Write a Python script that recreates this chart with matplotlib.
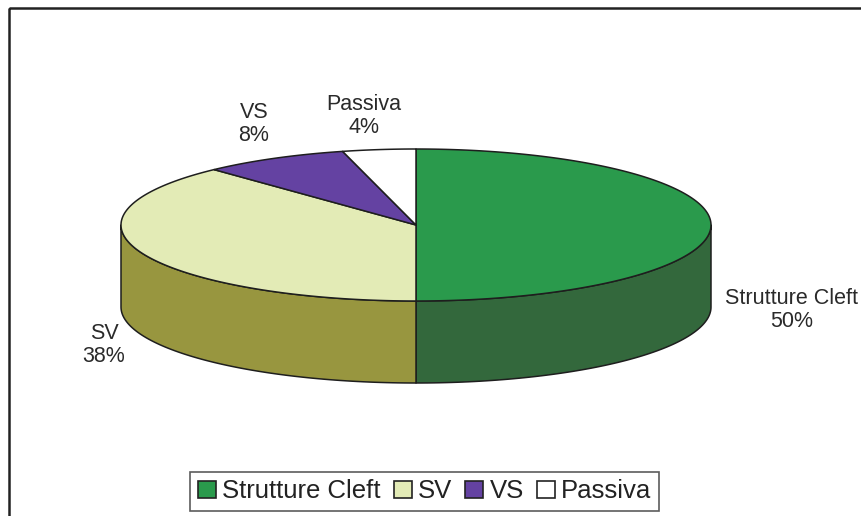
import numpy as np
import matplotlib.pyplot as plt
from matplotlib.patches import Polygon, Patch, Rectangle

# data
labels = ["Strutture Cleft", "SV", "VS", "Passiva"]
values = [50, 38, 8, 4]
top_colors = ["#2A9A4C", "#E3EBB6", "#6442A2", "#FFFFFF"]
side_colors = ["#33683C", "#98963F", "#45307A", "#D0D0D0"]

plt.rcParams['font.family'] = ['Liberation Sans', 'DejaVu Sans']

fig = plt.figure(figsize=(8.62, 5.16), dpi=100)
ax = fig.add_axes([0, 0, 1, 1])
ax.set_xlim(0, 862)
ax.set_ylim(516, 0)
ax.axis('off')

# outer chart frame
ax.add_patch(Rectangle((9.5, 7.5), 900, 600, fill=False, ec='#222222', lw=1.8))

# pie geometry (pixel space)
cx, cy, rx, ry, depth = 416, 225, 295, 76, 82
edge = '#1e1e1e'


def pt(t, dy=0):
    r = np.radians(t)
    return cx + rx * np.cos(r), cy - ry * np.sin(r) + dy


fracs = np.array(values, dtype=float) / sum(values)
starts = 90 - 360 * np.concatenate([[0], np.cumsum(fracs)[:-1]])
ends = starts - 360 * fracs

# side faces (front half only: 180..360 in math angle)
for s, e, col in zip(starts, ends, side_colors):
    for off in (0, -360, 360):
        lo = max(e, 180 + off)
        hi = min(s, 360 + off)
        if hi <= lo:
            continue
        ts = np.linspace(lo, hi, 80)
        top = [pt(t) for t in ts]
        bot = [pt(t, depth) for t in ts[::-1]]
        ax.add_patch(Polygon(top + bot, closed=True, fc=col, ec=edge, lw=1.1,
                             joinstyle='round'))

# top wedges
for s, e, col in zip(starts, ends, top_colors):
    ts = np.linspace(s, e, 200)
    verts = [(cx, cy)] + [pt(t) for t in ts]
    ax.add_patch(Polygon(verts, closed=True, fc=col, ec=edge, lw=1.1,
                         joinstyle='round'))

# data labels
label_pos = [(792, 310), (104, 345), (254, 124), (364, 116)]
for lab, v, (x, y) in zip(labels, values, label_pos):
    ax.text(x, y, f"{lab}\n{v}%", ha='center', va='center', fontsize=15.5,
            color='#2a2a2a', linespacing=1.15, multialignment='center')

# legend
handles = [Patch(fc=c, ec='#222222', lw=1.2) for c in top_colors]
leg = fig.legend(handles, labels, loc='center', ncol=4,
                 bbox_to_anchor=(424.5 / 862, 1 - 491.5 / 516),
                 fontsize=18.5, frameon=True, fancybox=False,
                 handlelength=0.7, handleheight=0.65, handletextpad=0.25,
                 columnspacing=0.5, borderpad=0.3, borderaxespad=0)
leg.get_frame().set_edgecolor('#333333')
leg.get_frame().set_linewidth(1.2)
for t in leg.get_texts():
    t.set_color('#222222')

fig.savefig('out.png', dpi=100)
